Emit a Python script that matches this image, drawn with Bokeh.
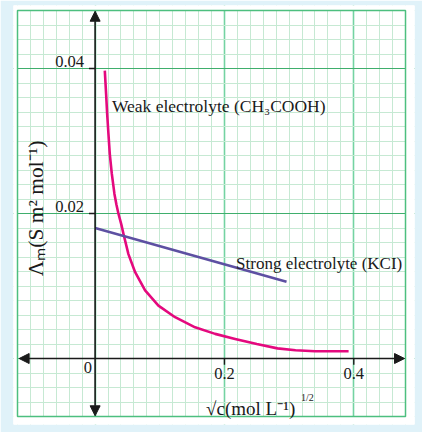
import math
from bokeh.plotting import figure
from bokeh.models import Range1d, SingleIntervalTicker, Arrow, NormalHead, Grid
from bokeh.core.properties import value
from bokeh.embed import file_html
from bokeh.resources import INLINE

# ---- data ----
weak_x = [0.0150, 0.0170, 0.0186, 0.0206, 0.0227, 0.0258, 0.0299, 0.0330, 0.0360,
          0.0405, 0.0438, 0.0515, 0.0619, 0.0773, 0.0979, 0.1237, 0.1546, 0.1856,
          0.2165, 0.250, 0.282, 0.310, 0.340, 0.370, 0.392]
weak_y = [0.0397, 0.0365, 0.0338, 0.0310, 0.0282, 0.0255, 0.0227, 0.0212, 0.0200,
          0.0185, 0.0172, 0.0144, 0.0119, 0.0094, 0.0073, 0.0057, 0.0043, 0.0034,
          0.0027, 0.0020, 0.0014, 0.00115, 0.0010, 0.0010, 0.0010]
strong_x = [0.0, 0.296]
strong_y = [0.0180, 0.0106]

x_tick_values = [0.2, 0.4]
x_tick_labels = ["0.2", "0.4"]
y_tick_values = [0.02, 0.04]
y_tick_labels = ["0.02", "0.04"]
zero_label = ["0"]

weak_label = "Weak electrolyte (CH\u2083COOH)"
strong_label = "Strong electrolyte (KCI)"
y_title = "\u039b\u2098(S m\u00b2 mol\u207b\u00b9)"
x_title = "\u221ac(mol L\u207b\u00b9)"
x_title_sup = "1/2"

# graph-paper area and the white panel around it
GX0, GX1 = -0.12, 0.48
GY0, GY1 = -0.008, 0.048
PX0, PX1 = -0.1262, 0.4939
PY0, PY1 = -0.0091, 0.04869

FONT = value("Liberation Serif")
INK = "#1a1a1a"
PINK = "#e4097e"
PURPLE = "#5d50a2"

p = figure(width=422, height=432, output_backend="svg", toolbar_location=None,
           x_range=Range1d(PX0, PX1), y_range=Range1d(PY0, PY1),
           x_axis_location=None, y_axis_location=None,
           min_border_left=13, min_border_right=8, min_border_top=5, min_border_bottom=8)
p.background_fill_color = "white"
p.border_fill_color = "#e0f2f9"
p.outline_line_color = None

xgrid = Grid(dimension=0, ticker=SingleIntervalTicker(interval=0.2, num_minor_ticks=10),
             grid_line_color="#74d3a2", grid_line_width=1.6,
             minor_grid_line_color="#c6e9d3", minor_grid_line_width=1)
ygrid = Grid(dimension=1, ticker=SingleIntervalTicker(interval=0.02, num_minor_ticks=10),
             grid_line_color="#3fae6c", grid_line_width=1.2,
             minor_grid_line_color="#c6e9d3", minor_grid_line_width=1)
p.add_layout(xgrid)
p.add_layout(ygrid)

# white margins of the panel (cover grid outside the graph paper)
p.quad(left=[PX0, GX1, PX0, PX0], right=[GX0, PX1, PX1, PX1],
       bottom=[PY0, PY0, PY0, GY1], top=[PY1, PY1, GY0, PY1],
       fill_color="white", line_color=None)
# graph paper border
p.quad(left=[GX0], right=[GX1], bottom=[GY0], top=[GY1],
       fill_color=None, line_color="#4dbf7f", line_width=1.5)

# axes with arrows
def head():
    return NormalHead(size=10, fill_color=INK, line_color=INK)

p.add_layout(Arrow(start=head(), end=head(), x_start=0, y_start=-0.0079,
                   x_end=0, y_end=0.0479, line_width=1.6, line_color=INK))
p.add_layout(Arrow(start=head(), end=head(), x_start=-0.1175, y_start=0,
                   x_end=0.4785, y_end=0, line_width=1.6, line_color=INK))

# tick marks
p.segment(x0=[-0.0095] * len(y_tick_values), y0=y_tick_values,
          x1=[0] * len(y_tick_values), y1=y_tick_values,
          line_color=INK, line_width=1.4)
p.segment(x0=x_tick_values, y0=[0] * len(x_tick_values),
          x1=x_tick_values, y1=[-0.00085] * len(x_tick_values),
          line_color=INK, line_width=1.4)

# curves
p.line(weak_x, weak_y, line_color=PINK, line_width=2.6, line_join="round")
p.line(strong_x, strong_y, line_color=PURPLE, line_width=2.6)

# tick labels
p.text(x=[0] * len(y_tick_values), y=y_tick_values, text=y_tick_labels,
       x_offset=-11, y_offset=-2, text_align="right", text_baseline="bottom",
       text_font=FONT, text_font_size="16.5px", text_color=INK)
p.text(x=[0], y=[0], text=zero_label, x_offset=-3, y_offset=3,
       text_align="right", text_baseline="top",
       text_font=FONT, text_font_size="16.5px", text_color=INK)
p.text(x=x_tick_values, y=[0] * len(x_tick_values), text=x_tick_labels,
       y_offset=9, text_align="center", text_baseline="top",
       text_font=FONT, text_font_size="16.5px", text_color=INK)

# curve labels
p.text(x=[0.026], y=[0.0348], text=[weak_label], text_align="left",
       text_baseline="alphabetic", text_font=FONT, text_font_size="17.5px",
       text_color=INK)
p.text(x=[0.218], y=[0.0131], text=[strong_label], text_align="left",
       text_baseline="alphabetic", text_font=FONT, text_font_size="17px",
       text_color=INK)

# axis titles
p.text(x=[-0.0912], y=[0.0207], text=[y_title], angle=math.pi / 2,
       text_align="center", text_baseline="middle", text_font=FONT,
       text_font_size="21.5px", text_color=INK)
p.text(x=[0.1716], y=[-0.0069], text=[x_title], text_align="left",
       text_baseline="alphabetic", text_font=FONT, text_font_size="19px",
       text_color=INK)
p.text(x=[0.3185], y=[-0.0054], text=[x_title_sup], text_align="left",
       text_baseline="alphabetic", text_font=FONT, text_font_size="10px",
       text_color=INK)

open("out.html", "w").write(file_html(p, INLINE))
